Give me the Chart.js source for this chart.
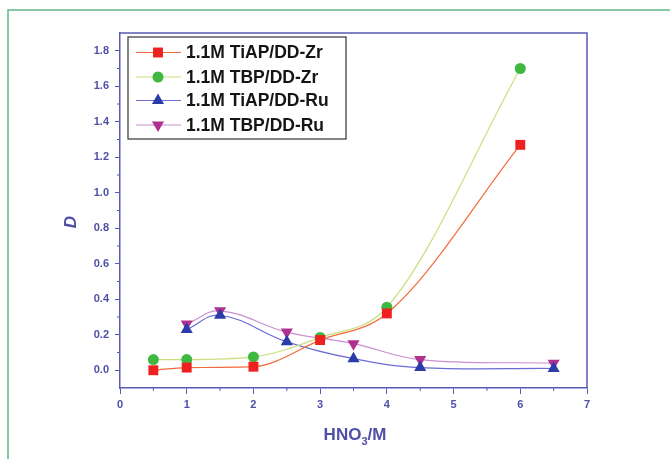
<!DOCTYPE html>
<html>
<head>
<meta charset="utf-8">
<script src="https://cdn.jsdelivr.net/npm/chart.js@4/dist/chart.umd.min.js"></script>
<style>
  html, body { margin: 0; padding: 0; background: #ffffff; }
  #wrap { width: 670px; height: 459px; }
</style>
</head>
<body>
<div id="wrap"><canvas id="c" width="670" height="459"></canvas></div>
<script>
// Distribution ratio D versus nitric acid concentration
const seriesNames = ['1.1M TiAP/DD-Zr', '1.1M TBP/DD-Zr', '1.1M TiAP/DD-Ru', '1.1M TBP/DD-Ru'];

const tiapZrX = [0.5, 1.0, 2.0, 3.0, 4.0, 6.0];
const tiapZrY = [0.00, 0.015, 0.02, 0.17, 0.32, 1.27];

const tbpZrX = [0.5, 1.0, 2.0, 3.0, 4.0, 6.0];
const tbpZrY = [0.06, 0.06, 0.075, 0.185, 0.355, 1.70];

const tiapRuX = [1.0, 1.5, 2.5, 3.5, 4.5, 6.5];
const tiapRuY = [0.23, 0.31, 0.16, 0.065, 0.015, 0.01];

const tbpRuX = [1.0, 1.5, 2.5, 3.5, 4.5, 6.5];
const tbpRuY = [0.26, 0.335, 0.215, 0.15, 0.06, 0.04];

const xTicks = [0, 1, 2, 3, 4, 5, 6, 7];
const xTickLabels = ['0', '1', '2', '3', '4', '5', '6', '7'];
const yTicks = [0, 0.2, 0.4, 0.6, 0.8, 1.0, 1.2, 1.4, 1.6, 1.8];
const yTickLabels = ['0.0', '0.2', '0.4', '0.6', '0.8', '1.0', '1.2', '1.4', '1.6', '1.8'];

const AXIS = '#5a5ab8';
const LABEL = '#4f4fa6';
const FONT = '"Liberation Sans", Arial, sans-serif';

const toPoints = (xs, ys) => xs.map((x, i) => ({ x: x, y: ys[i] }));

const styles = [
  { line: '#f36b3c', fill: '#ee2020', pointStyle: 'rect', radius: 7, rotation: 0, mode: 'monotone' },
  { line: '#c9df7c', fill: '#3fb83f', pointStyle: 'circle', radius: 5.5, rotation: 0, mode: 'monotone' },
  { line: '#6b6bd2', fill: '#2b3ba8', pointStyle: 'triangle', radius: 7, rotation: 0, mode: 'default' },
  { line: '#c98fd0', fill: '#b0308f', pointStyle: 'triangle', radius: 7, rotation: 180, mode: 'default' }
];

const seriesData = [
  toPoints(tiapZrX, tiapZrY),
  toPoints(tbpZrX, tbpZrY),
  toPoints(tiapRuX, tiapRuY),
  toPoints(tbpRuX, tbpRuY)
];

const datasets = seriesData.map((pts, i) => ({
  label: seriesNames[i],
  data: pts,
  showLine: true,
  tension: 0.4,
  cubicInterpolationMode: styles[i].mode,
  borderColor: styles[i].line,
  borderWidth: 1.2,
  backgroundColor: styles[i].fill,
  pointBackgroundColor: styles[i].fill,
  pointBorderColor: styles[i].fill,
  pointBorderWidth: 0,
  pointStyle: styles[i].pointStyle,
  pointRotation: styles[i].rotation,
  pointRadius: styles[i].radius,
  pointHoverRadius: styles[i].radius
}));

function marker(ctx, st, x, y) {
  ctx.save();
  ctx.fillStyle = st.fill;
  ctx.strokeStyle = st.fill;
  ctx.lineWidth = 0;
  if (Chart.helpers && Chart.helpers.drawPoint) {
    Chart.helpers.drawPoint(ctx, { pointStyle: st.pointStyle, rotation: st.rotation, radius: st.radius, borderWidth: 0 }, x, y);
  } else {
    ctx.beginPath();
    ctx.arc(x, y, st.radius, 0, Math.PI * 2);
    ctx.fill();
  }
  ctx.restore();
}

const decor = {
  id: 'decor',
  afterDraw(chart) {
    const ctx = chart.ctx;
    const a = chart.chartArea;
    const xs = chart.scales.x;
    const ys = chart.scales.y;
    ctx.save();

    // outer green frame
    ctx.strokeStyle = '#5fb887';
    ctx.lineWidth = 1.5;
    ctx.strokeRect(8, 10, 700, 500);

    // top and right edges of the plot box
    ctx.strokeStyle = AXIS;
    ctx.lineWidth = 1.5;
    ctx.beginPath();
    ctx.moveTo(a.left, a.top);
    ctx.lineTo(a.right, a.top);
    ctx.lineTo(a.right, a.bottom);
    ctx.stroke();

    // minor ticks
    ctx.lineWidth = 1;
    ctx.beginPath();
    for (let v = 0.5; v < 7; v += 1) {
      const px = xs.getPixelForValue(v);
      ctx.moveTo(px, a.bottom);
      ctx.lineTo(px, a.bottom + 3);
    }
    for (let v = 0.1; v < 1.85; v += 0.2) {
      const py = ys.getPixelForValue(v);
      ctx.moveTo(a.left, py);
      ctx.lineTo(a.left - 3, py);
    }
    ctx.stroke();

    // axis titles
    ctx.fillStyle = LABEL;
    ctx.textBaseline = 'alphabetic';
    ctx.font = 'bold 17px ' + FONT;
    const w1 = ctx.measureText('HNO').width;
    ctx.font = 'bold 11px ' + FONT;
    const w2 = ctx.measureText('3').width;
    ctx.font = 'bold 17px ' + FONT;
    const w3 = ctx.measureText('/M').width;
    let tx = 355 - (w1 + w2 + w3) / 2;
    const ty = 440;
    ctx.textAlign = 'left';
    ctx.fillText('HNO', tx, ty);
    ctx.font = 'bold 11px ' + FONT;
    ctx.fillText('3', tx + w1, ty + 5);
    ctx.font = 'bold 17px ' + FONT;
    ctx.fillText('/M', tx + w1 + w2, ty);

    ctx.save();
    ctx.translate(71, 222);
    ctx.rotate(-Math.PI / 2);
    ctx.font = 'italic bold 17px ' + FONT;
    ctx.textAlign = 'center';
    ctx.textBaseline = 'middle';
    ctx.fillText('D', 0, 0);
    ctx.restore();

    // legend
    const lx = 128, ly = 37, lw = 218, lh = 102;
    ctx.fillStyle = '#ffffff';
    ctx.fillRect(lx, ly, lw, lh);
    ctx.strokeStyle = '#333333';
    ctx.lineWidth = 1.2;
    ctx.strokeRect(lx, ly, lw, lh);
    const rows = [52.5, 77, 100.5, 125];
    rows.forEach((ry, i) => {
      const st = styles[i];
      ctx.strokeStyle = st.line;
      ctx.lineWidth = 1.2;
      ctx.beginPath();
      ctx.moveTo(136, ry);
      ctx.lineTo(181, ry);
      ctx.stroke();
      marker(ctx, st, 158, ry);
      ctx.fillStyle = '#151515';
      ctx.font = 'bold 17.5px ' + FONT;
      ctx.textAlign = 'left';
      ctx.textBaseline = 'middle';
      ctx.fillText(seriesNames[i], 186, ry + 1);
    });

    ctx.restore();
  }
};

new Chart(document.getElementById('c'), {
  type: 'scatter',
  data: { datasets: datasets },
  options: {
    responsive: false,
    devicePixelRatio: 1,
    animation: false,
    layout: { padding: { top: 33, right: 83, left: 0, bottom: 0 } },
    plugins: { legend: { display: false }, tooltip: { enabled: false } },
    scales: {
      x: {
        type: 'linear',
        min: 0,
        max: 7,
        afterBuildTicks: s => { s.ticks = xTicks.map(v => ({ value: v })); },
        afterFit: s => { s.height = 71; },
        grid: { drawOnChartArea: false, drawTicks: true, tickLength: 6, color: AXIS, lineWidth: 1 },
        border: { color: AXIS, width: 1.5 },
        ticks: {
          color: LABEL,
          padding: 4,
          font: { family: FONT, weight: 'bold', size: 11 },
          callback: (v, i) => xTickLabels[i]
        }
      },
      y: {
        type: 'linear',
        min: -0.1,
        max: 1.9,
        afterBuildTicks: s => { s.ticks = yTicks.map(v => ({ value: v })); },
        afterFit: s => { s.width = 120; },
        grid: { drawOnChartArea: false, drawTicks: true, tickLength: 5, color: AXIS, lineWidth: 1 },
        border: { color: AXIS, width: 1.5 },
        ticks: {
          color: LABEL,
          padding: 6,
          font: { family: FONT, weight: 'bold', size: 11 },
          callback: (v, i) => yTickLabels[i]
        }
      }
    }
  },
  plugins: [decor]
});
</script>
</body>
</html>
